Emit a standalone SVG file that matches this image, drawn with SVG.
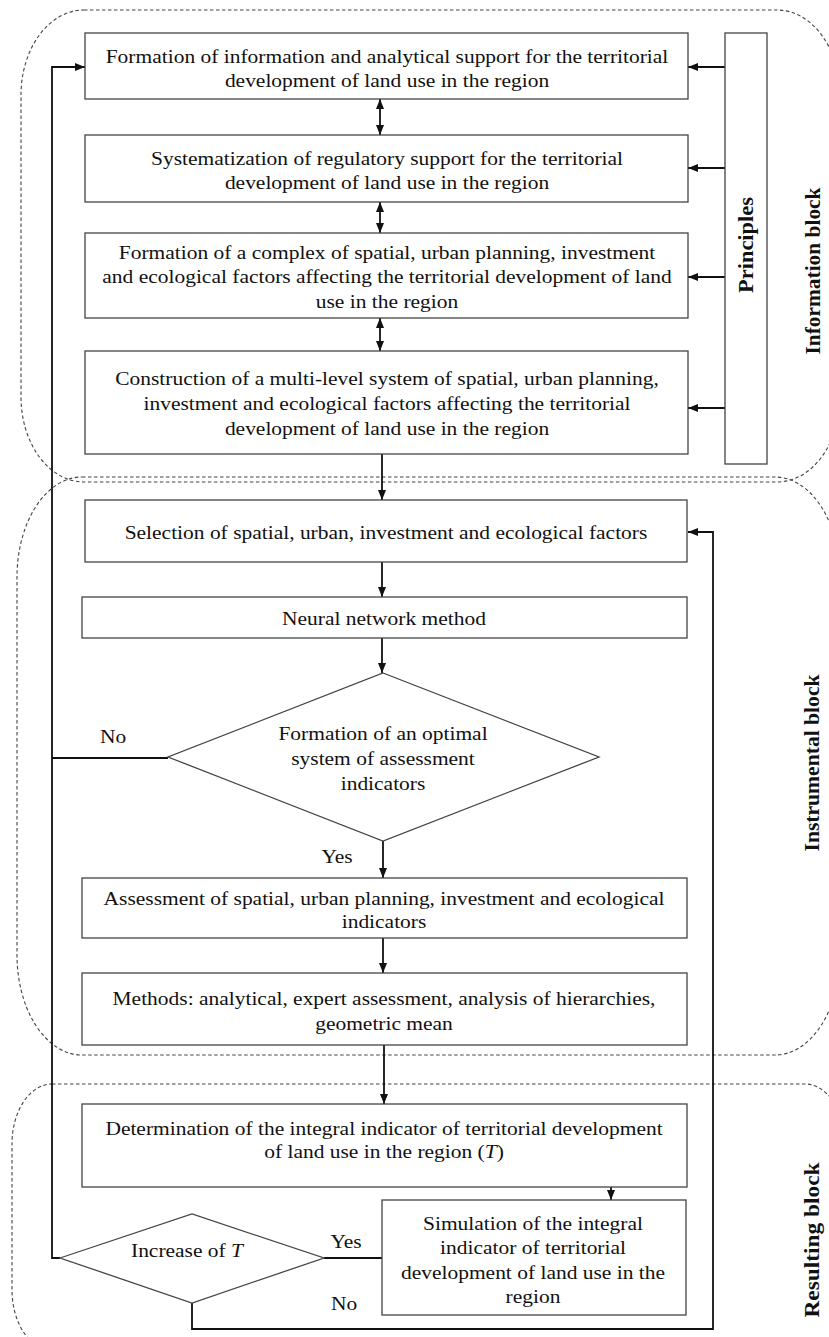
<svg xmlns="http://www.w3.org/2000/svg" width="829" height="1337" viewBox="0 0 829 1337">
<style>
.blk{fill:none;stroke:#444;stroke-width:1.1;stroke-dasharray:3.5 2.5}
.box{fill:#fff;stroke:#444;stroke-width:1.3}
.ln{fill:none;stroke:#111;stroke-width:1.8}
.t{font-family:"Liberation Serif","Times New Roman",serif;font-size:19px;fill:#111;text-anchor:middle}
.v{font-family:"Liberation Serif","Times New Roman",serif;font-size:20px;font-weight:bold;fill:#111;text-anchor:middle}
</style>
<defs>
<marker id="ah" viewBox="0 0 10 8" refX="10" refY="4" markerWidth="10" markerHeight="8" markerUnits="userSpaceOnUse" orient="auto-start-reverse">
<path d="M0,0 L10,4 L0,8 Z" fill="#111"/>
</marker>
</defs>
<rect width="829" height="1337" fill="#fff"/>

<g id="blocks">
<path class="blk" d="M84,10 H777 A63 85 0 0 1 840 95 V397 A63 85 0 0 1 777 482 H84 A63 85 0 0 1 21 397 V95 A63 85 0 0 1 84 10 Z"/>
<path class="blk" d="M82,477 H775 A65 100 0 0 1 840 577 V955 A65 100 0 0 1 775 1055 H82 A65 100 0 0 1 17 955 V577 A65 100 0 0 1 82 477 Z"/>
<path class="blk" d="M52,1084 H805 A40 60 0 0 1 845 1144 V1290 A40 60 0 0 1 805 1350 H52 A40 60 0 0 1 12 1290 V1144 A40 60 0 0 1 52 1084 Z"/>
</g>

<g id="connectors">
<path class="ln" d="M725,67 H688" marker-end="url(#ah)"/>
<path class="ln" d="M725,168 H688" marker-end="url(#ah)"/>
<path class="ln" d="M725,277 H688" marker-end="url(#ah)"/>
<path class="ln" d="M725,408 H688" marker-end="url(#ah)"/>
<path class="ln" d="M380,99 V135" marker-start="url(#ah)" marker-end="url(#ah)"/>
<path class="ln" d="M380,202 V233" marker-start="url(#ah)" marker-end="url(#ah)"/>
<path class="ln" d="M380,318 V351" marker-start="url(#ah)" marker-end="url(#ah)"/>
<path class="ln" d="M382,454 V500" marker-end="url(#ah)"/>
<path class="ln" d="M382,562 V597" marker-end="url(#ah)"/>
<path class="ln" d="M382,638 V673" marker-end="url(#ah)"/>
<path class="ln" d="M383,841 V878" marker-end="url(#ah)"/>
<path class="ln" d="M383,938 V973" marker-end="url(#ah)"/>
<path class="ln" d="M384,1045 V1104" marker-end="url(#ah)"/>
<path class="ln" d="M611,1187 V1200" marker-end="url(#ah)"/>
<path class="ln" d="M168,758 H52"/>
<path class="ln" d="M60,1258 H52 V67 H85" marker-end="url(#ah)"/>
<path class="ln" d="M324,1258 H382"/>
<path class="ln" d="M192,1303 V1329 H713 V532 H688" marker-end="url(#ah)"/>
</g>

<g id="n1">
<rect class="box" x="85" y="33" width="603" height="66"/>
<text class="t" transform="translate(387,63) scale(1.13,1)"><tspan x="0">Formation of information and analytical support for the territorial</tspan><tspan x="0" dy="24">development of land use in the region</tspan></text>
</g>
<g id="n2">
<rect class="box" x="85" y="135" width="603" height="67"/>
<text class="t" transform="translate(387,165) scale(1.13,1)"><tspan x="0">Systematization of regulatory support for the territorial</tspan><tspan x="0" dy="24">development of land use in the region</tspan></text>
</g>
<g id="n3">
<rect class="box" x="85" y="233" width="603" height="85"/>
<text class="t" transform="translate(387,259) scale(1.13,1)"><tspan x="0">Formation of a complex of spatial, urban planning, investment</tspan><tspan x="0" dy="24.5">and ecological factors affecting the territorial development of land</tspan><tspan x="0" dy="24.5">use in the region</tspan></text>
</g>
<g id="n4">
<rect class="box" x="85" y="351" width="603" height="103"/>
<text class="t" transform="translate(387,385) scale(1.13,1)"><tspan x="0">Construction of a multi-level system of spatial, urban planning,</tspan><tspan x="0" dy="25">investment and ecological factors affecting the territorial</tspan><tspan x="0" dy="25">development of land use in the region</tspan></text>
</g>
<g id="principles">
<rect class="box" x="725" y="33" width="42" height="431"/>
<text class="v" transform="translate(753,245) rotate(-90)" textLength="96" lengthAdjust="spacingAndGlyphs">Principles</text>
</g>
<g id="n5">
<rect class="box" x="85" y="500" width="602" height="62"/>
<text class="t" transform="translate(386,539) scale(1.13,1)">Selection of spatial, urban, investment and ecological factors</text>
</g>
<g id="n6">
<rect class="box" x="82" y="597" width="605" height="41"/>
<text class="t" transform="translate(384,625) scale(1.13,1)">Neural network method</text>
</g>
<g id="d1">
<polygon class="box" points="383,673 599,757 383,841 168,757"/>
<text class="t" transform="translate(383,740) scale(1.13,1)"><tspan x="0">Formation of an optimal</tspan><tspan x="0" dy="25">system of assessment</tspan><tspan x="0" dy="25">indicators</tspan></text>
<text class="t" transform="translate(113,743) scale(1.13,1)">No</text>
<text class="t" transform="translate(337,863) scale(1.13,1)">Yes</text>
</g>
<g id="n7">
<rect class="box" x="82" y="878" width="605" height="60"/>
<text class="t" transform="translate(384,905) scale(1.13,1)"><tspan x="0">Assessment of spatial, urban planning, investment and ecological</tspan><tspan x="0" dy="23.5">indicators</tspan></text>
</g>
<g id="n8">
<rect class="box" x="82" y="973" width="605" height="72"/>
<text class="t" transform="translate(384,1005) scale(1.13,1)"><tspan x="0">Methods: analytical, expert assessment, analysis of hierarchies,</tspan><tspan x="0" dy="25">geometric mean</tspan></text>
</g>
<g id="n9">
<rect class="box" x="82" y="1104" width="605" height="83"/>
<text class="t" transform="translate(384,1135) scale(1.13,1)"><tspan x="0">Determination of the integral indicator of territorial development</tspan><tspan x="0" dy="23.5">of land use in the region (<tspan font-style="italic">T</tspan>)</tspan></text>
</g>
<g id="n10">
<rect class="box" x="382" y="1200" width="304" height="115"/>
<text class="t" transform="translate(533,1230) scale(1.13,1)"><tspan x="0">Simulation of the integral</tspan><tspan x="0" dy="24.5">indicator of territorial</tspan><tspan x="0" dy="24.5">development of land use in the</tspan><tspan x="0" dy="24.5">region</tspan></text>
</g>
<g id="d2">
<polygon class="box" points="60,1258 192,1214 324,1258 192,1303"/>
<text class="t" transform="translate(187,1257) scale(1.13,1)">Increase of <tspan font-style="italic">T</tspan></text>
<text class="t" transform="translate(346,1248) scale(1.13,1)">Yes</text>
<text class="t" transform="translate(344,1310) scale(1.13,1)">No</text>
</g>
<g id="labels">
<text class="v" transform="translate(820,271) rotate(-90)" textLength="167" lengthAdjust="spacingAndGlyphs">Information block</text>
<text class="v" transform="translate(819,763) rotate(-90)" textLength="177" lengthAdjust="spacingAndGlyphs">Instrumental block</text>
<text class="v" transform="translate(819,1240) rotate(-90)" textLength="155" lengthAdjust="spacingAndGlyphs">Resulting block</text>
</g>
</svg>
